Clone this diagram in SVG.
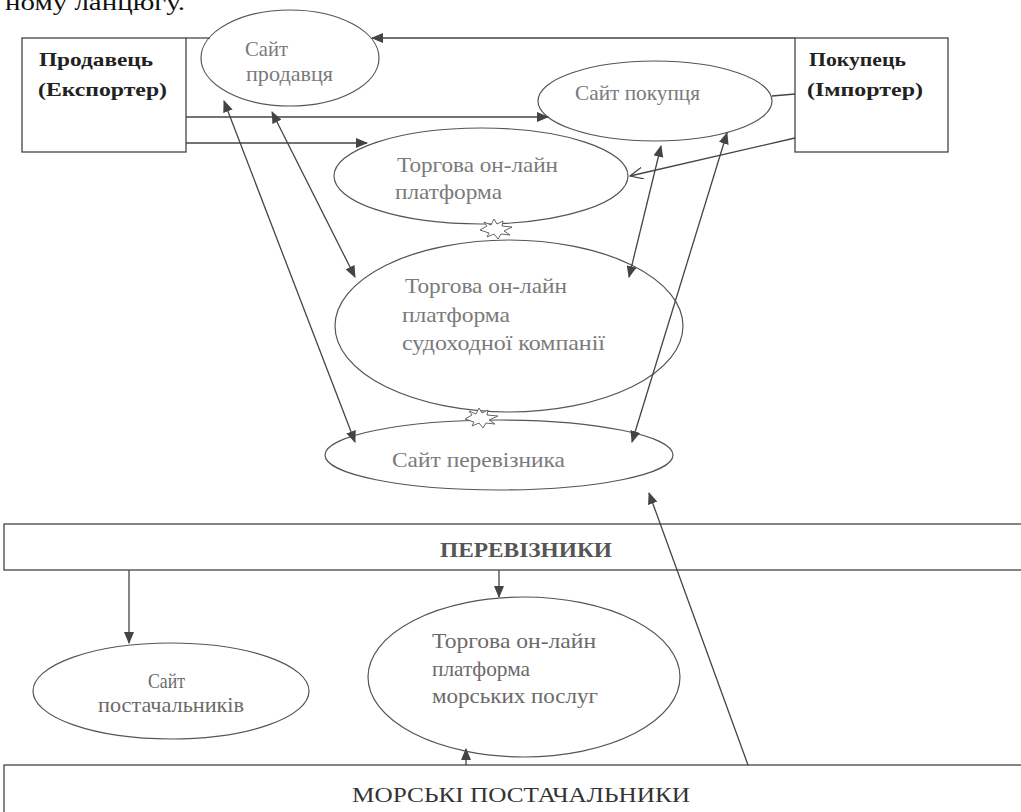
<svg xmlns="http://www.w3.org/2000/svg" width="1021" height="812" viewBox="0 0 1021 812">
<style>
  .box{fill:#fff;stroke:#444;stroke-width:1.3}
  .ell{fill:#fff;stroke:#555;stroke-width:1.2}
  .lbl{font-family:"Liberation Serif","Times New Roman",serif;font-size:21px;fill:#7a7a7a}
  .lbl2{font-family:"Liberation Serif","Times New Roman",serif;font-size:22px;fill:#6a6a6a}
  .blbl{font-family:"Liberation Serif","Times New Roman",serif;font-size:19px;font-weight:bold;fill:#222}
  .bar{font-family:"Liberation Serif","Times New Roman",serif;font-size:21px;fill:#555}
  .ln{stroke:#444;stroke-width:1.3;fill:none}
  .star{fill:#fff;stroke:#666;stroke-width:1}
</style>
<defs>
  <marker id="arr" viewBox="0 0 12 10" refX="11" refY="5" markerWidth="12" markerHeight="10" markerUnits="userSpaceOnUse" orient="auto-start-reverse">
    <path d="M0,0 L12,5 L0,10 z" fill="#444"/>
  </marker>
  <marker id="open" viewBox="0 0 14 12" refX="13" refY="6" markerWidth="14" markerHeight="12" markerUnits="userSpaceOnUse" orient="auto">
    <path d="M0,0 L13,6 L0,12" fill="none" stroke="#444" stroke-width="1.2"/>
  </marker>
</defs>
<rect width="1021" height="812" fill="#fff"/>
<text x="5" y="10" font-family="Liberation Serif, serif" font-size="24" fill="#111" textLength="180" lengthAdjust="spacingAndGlyphs">ному ланцюгу.</text>

<g id="seller">
  <rect class="box" x="22" y="38" width="164" height="114"/>
  <text class="blbl" x="39" y="66" textLength="114" lengthAdjust="spacingAndGlyphs">Продавець</text>
  <text class="blbl" x="38" y="96" textLength="129" lengthAdjust="spacingAndGlyphs">(Експортер)</text>
</g>
<g id="buyer">
  <rect class="box" x="795" y="38" width="153" height="114"/>
  <text class="blbl" x="809" y="66" textLength="97" lengthAdjust="spacingAndGlyphs">Покупець</text>
  <text class="blbl" x="807" y="96" textLength="116" lengthAdjust="spacingAndGlyphs">(Імпортер)</text>
</g>
<g id="seller-site">
  <ellipse class="ell" cx="290" cy="58" rx="89" ry="48"/>
  <text class="lbl" x="245" y="56" textLength="43" lengthAdjust="spacingAndGlyphs">Сайт</text>
  <text class="lbl" x="246" y="81" textLength="87" lengthAdjust="spacingAndGlyphs">продавця</text>
</g>
<g id="buyer-site">
  <ellipse class="ell" cx="655" cy="101" rx="117" ry="40"/>
  <text class="lbl" x="575" y="100" textLength="125" lengthAdjust="spacingAndGlyphs">Сайт покупця</text>
</g>
<g id="trade-platform">
  <ellipse class="ell" cx="481" cy="176" rx="147" ry="48"/>
  <text class="lbl" x="397" y="172" textLength="161" lengthAdjust="spacingAndGlyphs">Торгова он-лайн</text>
  <text class="lbl" x="395" y="199" textLength="107" lengthAdjust="spacingAndGlyphs">платформа</text>
</g>
<g id="shipping-platform">
  <ellipse class="ell" cx="509" cy="326" rx="174" ry="86"/>
  <text class="lbl" x="405" y="293" textLength="162" lengthAdjust="spacingAndGlyphs">Торгова он-лайн</text>
  <text class="lbl" x="402" y="322" textLength="108" lengthAdjust="spacingAndGlyphs">платформа</text>
  <text class="lbl" x="402" y="350" textLength="203" lengthAdjust="spacingAndGlyphs">судоходної компанії</text>
</g>
<g id="carrier-site">
  <ellipse class="ell" cx="499" cy="455" rx="174" ry="35"/>
  <text class="lbl" x="392" y="467" textLength="173" lengthAdjust="spacingAndGlyphs">Сайт перевізника</text>
</g>
<path class="star" d="M480,230 L487,226 L484,222 L491,225 L494,219 L497,224 L503,221 L502,226 L512,227 L504,231 L510,235 L501,234 L498,239 L494,234 L487,237 L489,233 z"/>
<path class="star" d="M465,419 L472,415 L469,411 L476,414 L479,408 L482,413 L488,410 L487,415 L498,416 L489,420 L495,424 L486,423 L483,428 L479,423 L472,426 L474,422 z"/>

<g id="carriers">
  <rect class="box" x="4" y="524" width="1030" height="46"/>
  <text class="bar" x="526" y="557" text-anchor="middle" font-weight="bold" textLength="172" lengthAdjust="spacingAndGlyphs">ПЕРЕВІЗНИКИ</text>
</g>
<g id="suppliers-site">
  <ellipse class="ell" cx="171" cy="691" rx="138" ry="48"/>
  <text class="lbl2" x="148" y="688" textLength="37" lengthAdjust="spacingAndGlyphs">Сайт</text>
  <text class="lbl2" x="98" y="712" textLength="146" lengthAdjust="spacingAndGlyphs">постачальників</text>
</g>
<g id="marine-platform">
  <ellipse class="ell" cx="524" cy="677" rx="156" ry="80"/>
  <text class="lbl2" x="432" y="648" textLength="164" lengthAdjust="spacingAndGlyphs">Торгова он-лайн</text>
  <text class="lbl2" x="432" y="676" textLength="98" lengthAdjust="spacingAndGlyphs">платформа</text>
  <text class="lbl2" x="432" y="703" textLength="166" lengthAdjust="spacingAndGlyphs">морських послуг</text>
</g>
<g id="marine-suppliers">
  <rect class="box" x="4" y="765" width="1030" height="60"/>
  <text class="bar" x="521" y="802" text-anchor="middle" style="fill:#333" textLength="338" lengthAdjust="spacingAndGlyphs">МОРСЬКІ ПОСТАЧАЛЬНИКИ</text>
</g>

<g id="connectors">
  <line class="ln" x1="186" y1="38" x2="210" y2="38"/>
  <line class="ln" x1="795" y1="38" x2="372" y2="38" marker-end="url(#arr)"/>
  <line class="ln" x1="186" y1="117" x2="548" y2="117" marker-end="url(#arr)"/>
  <line class="ln" x1="186" y1="143" x2="367" y2="143" marker-end="url(#arr)"/>
  <line class="ln" x1="795" y1="138" x2="630" y2="176" marker-end="url(#open)"/>
  <line class="ln" x1="772" y1="96" x2="795" y2="94"/>
  <line class="ln" x1="224" y1="101" x2="355" y2="442" marker-start="url(#arr)" marker-end="url(#arr)"/>
  <line class="ln" x1="272" y1="112" x2="355" y2="277" marker-start="url(#arr)" marker-end="url(#arr)"/>
  <line class="ln" x1="661" y1="146" x2="629" y2="277" marker-start="url(#arr)" marker-end="url(#arr)"/>
  <line class="ln" x1="727" y1="133" x2="632" y2="442" marker-start="url(#arr)" marker-end="url(#arr)"/>
  <line class="ln" x1="129" y1="570" x2="129" y2="643" marker-end="url(#arr)"/>
  <line class="ln" x1="499" y1="570" x2="499" y2="597" marker-end="url(#arr)"/>
  <line class="ln" x1="466" y1="765" x2="466" y2="749" marker-end="url(#arr)"/>
  <line class="ln" x1="748" y1="765" x2="649" y2="493" marker-end="url(#arr)"/>
</g>
</svg>
